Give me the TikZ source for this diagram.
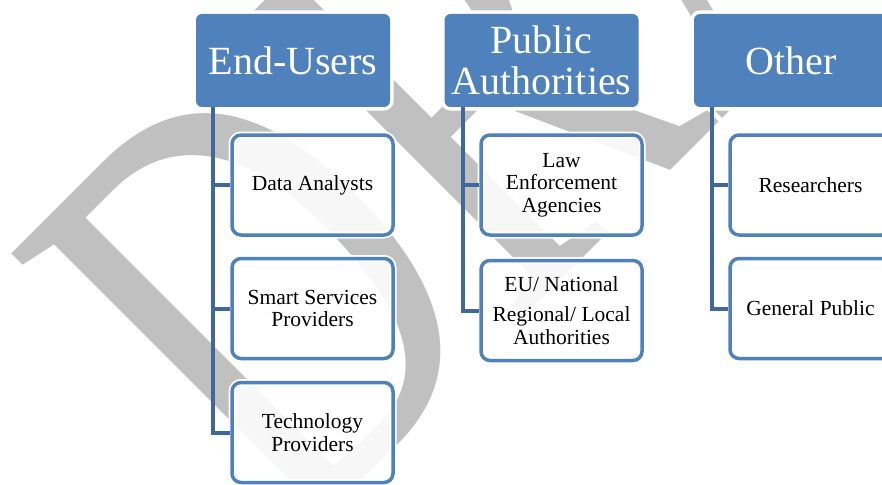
\documentclass[tikz,border=0pt]{standalone}
\usepackage{fontspec}
\setmainfont{Liberation Serif}
\definecolor{headblue}{RGB}{79,129,189}
\definecolor{connblue}{RGB}{64,104,154}
\definecolor{wmgray}{RGB}{192,192,192}
\begin{document}
\begin{tikzpicture}[x=1pt,y=1pt,
  head/.style={rounded corners=6pt, fill=headblue, text=white, minimum width=194pt, minimum height=93pt, inner sep=0pt, align=center, font=\fontsize{40}{41}\selectfont, preaction={draw=white,line width=7pt}},
  kid/.style={rounded corners=9pt, draw=headblue, line width=3.5pt, fill=white, fill opacity=0.88, text opacity=1, minimum width=161pt, minimum height=100pt, inner sep=0pt, align=center, font=\fontsize{21.5}{22.5}\selectfont, preaction={draw=white,draw opacity=1,line width=7pt}},
  conn/.style={draw=connblue, line width=4pt},
  wm/.style={text=wmgray, inner sep=0pt, font=\fontsize{520}{520}\selectfont}]
\useasboundingbox (0,0) rectangle (882,-484);
\clip (0,0) rectangle (882,-484);
\fill[white] (0,0) rectangle (882,-484);
\begin{scope}[shift={(290.5,-550.3)}, rotate=45, xscale=0.84, yscale=1.195]
\node[wm, transform shape, anchor=base west] (wmark) at (0,0) {DRAFT};
\end{scope}
% headers
\node[head] (h1) at (293,-60.5) {End-Users};
\node[head] (h2) at (541.5,-60.5) {Public\\Authorities};
\node[head] (h3) at (791,-60.5) {Other};
% children
\node[kid] (a1) at (312.5,-185) {Data Analysts};
\node[kid] (a2) at (312.5,-308.5) {Smart Services\\Providers};
\node[kid] (a3) at (312.5,-432.5) {Technology\\Providers};
\node[kid] (b1) at (561.5,-185) {Law\\Enforcement\\Agencies};
\node[kid] (b2) at (561.5,-310.5) {EU/ National\\[8pt]Regional/ Local\\Authorities};
\node[kid] (c1) at (810.5,-185) {Researchers};
\node[kid] (c2) at (810.5,-308.5) {General Public};
% connectors
\coordinate (s1) at (213,-107);
\coordinate (s2) at (463,-107);
\coordinate (s3) at (712,-107);
\draw[conn] (s1) |- (a3.west);
\draw[conn] (s1 |- a1.west) -- (a1.west);
\draw[conn] (s1 |- a2.west) -- (a2.west);
\draw[conn] (s2) |- (b2.west);
\draw[conn] (s2 |- b1.west) -- (b1.west);
\draw[conn] (s3) |- (c2.west);
\draw[conn] (s3 |- c1.west) -- (c1.west);
\end{tikzpicture}
\end{document}
